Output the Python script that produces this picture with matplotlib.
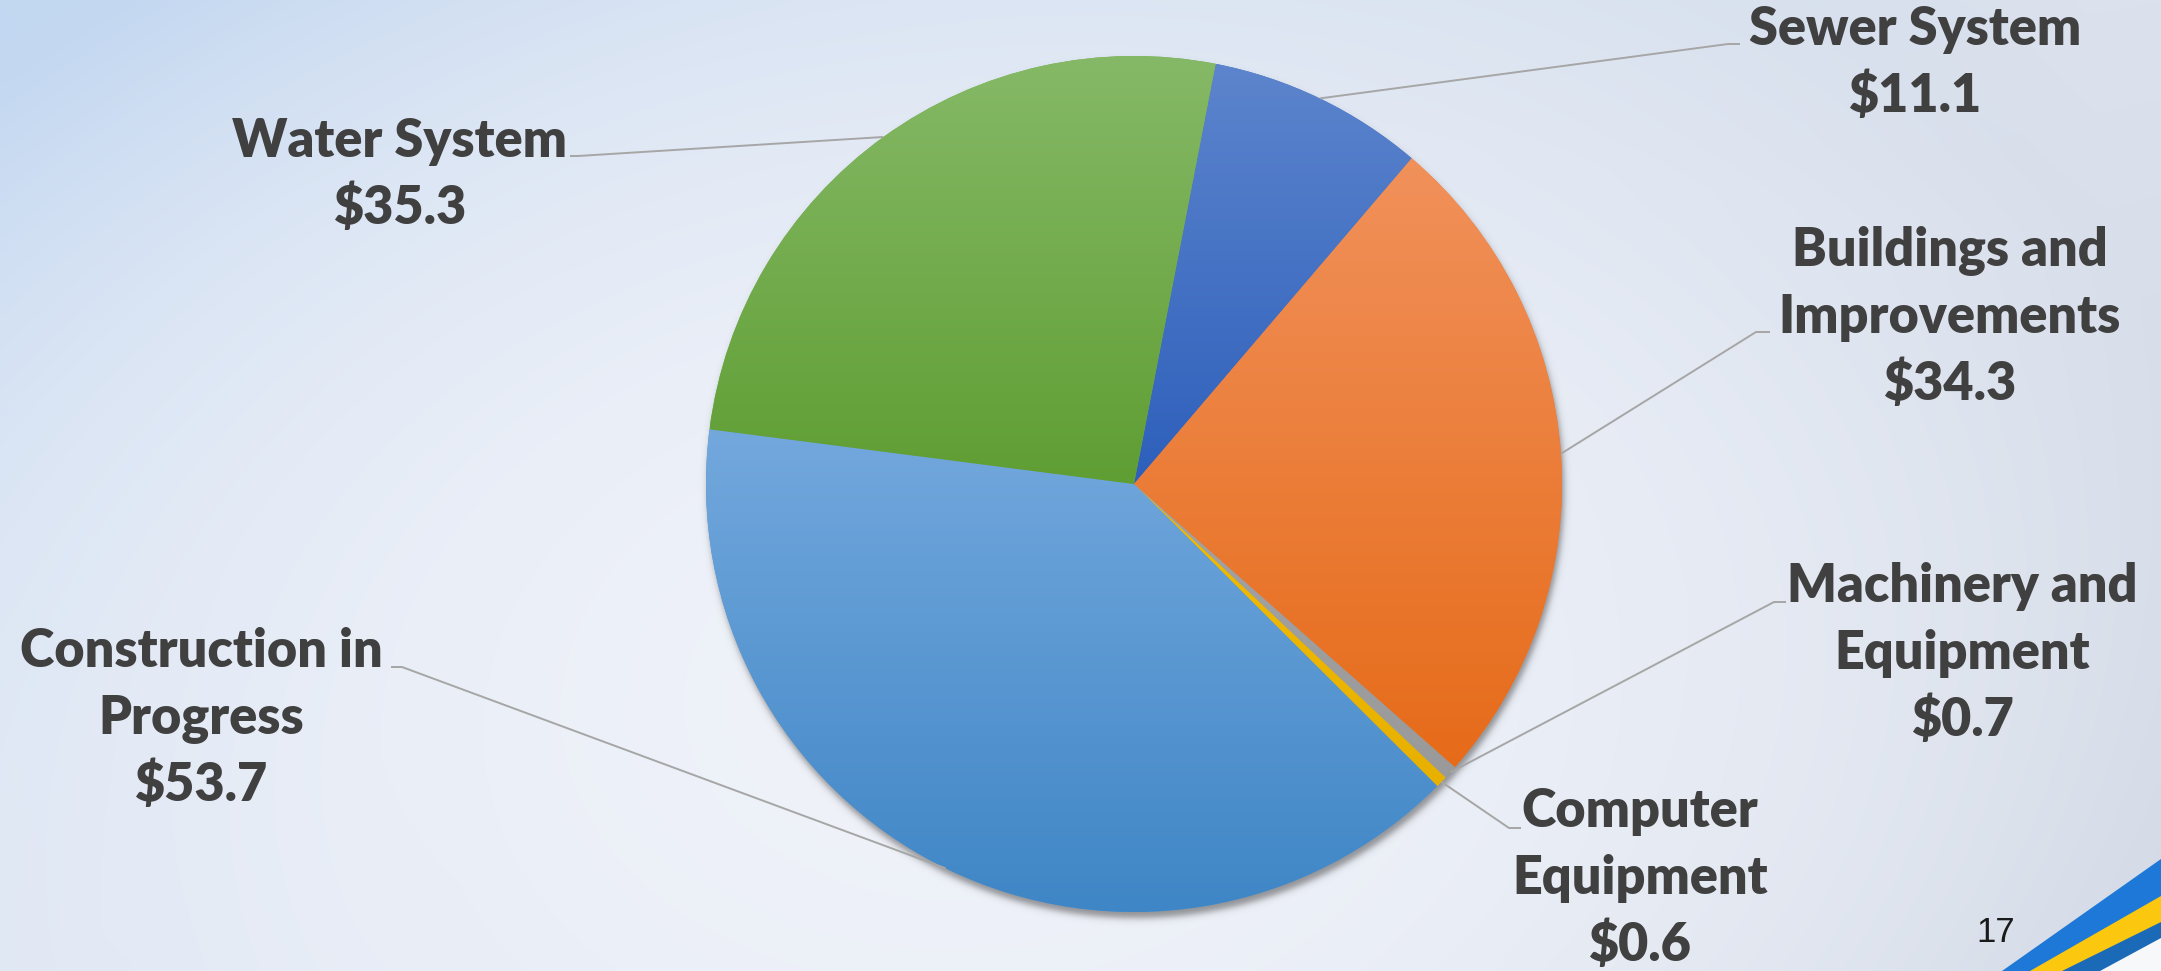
import numpy as np
import matplotlib
matplotlib.use("Agg")
import matplotlib.pyplot as plt
from matplotlib.colors import to_rgb
from matplotlib.patches import Polygon

# ---- data -----------------------------------------------------------------
categories = ["Sewer System", "Buildings and Improvements", "Machinery and Equipment",
              "Computer Equipment", "Construction in Progress", "Water System"]
values = [11.1, 34.3, 0.7, 0.6, 53.7, 35.3]
label_lines = [["Sewer System"], ["Buildings and", "Improvements"],
               ["Machinery and", "Equipment"], ["Computer", "Equipment"],
               ["Construction in", "Progress"], ["Water System"]]

# ---- styling / layout -------------------------------------------------------
W, H, DPI = 2161, 971, 100
slice_top = ["#5d85cd", "#f1915b", "#a3a3a3", "#f2bb00", "#73a8dd", "#86b967"]
slice_bot = ["#2d5fbb", "#e66b19", "#9a9a9a", "#e8b100", "#3f86c6", "#5f9e33"]
text_color = "#404040"
leader_color = "#a6a6a6"
font = dict(family="Lato", weight="heavy", size=37.5, color=text_color)

pie_cx, pie_cy, pie_r = 1134, 484, 428          # pixel units, y measured downwards
start_angle = 79                                 # degrees ccw from +x, slices run clockwise

# label anchor: (centre x, first baseline y), elbow point, end of leader
label_pos = [(1915, 45), (1950, 266), (1962, 602), (1640, 827), (201, 667), (400, 157)]
elbows = [((1728, 44), (1740, 44)), ((1756, 332), (1770, 332)), ((1774, 602), (1786, 602)),
          ((1509, 828), (1521, 828)), ((402, 667), (391, 667)), ((578, 156), (570, 156))]
line_step = 67


def Y(y):
    return H - y


fig = plt.figure(figsize=(W / DPI, H / DPI), dpi=DPI)
ax = fig.add_axes([0, 0, 1, 1])

# ---- slide background -------------------------------------------------------
sh, sw = H // 4, W // 4
gy, gx = np.mgrid[0:sh, 0:sw]
u = gx / (sw - 1)
v = gy / (sh - 1)
tl, tr = np.array(to_rgb("#c2d7f1")), np.array(to_rgb("#dce2ed"))
bl, br = np.array(to_rgb("#d9e3f2")), np.array(to_rgb("#d0d7e3"))
bg = ((1 - u) * (1 - v))[..., None] * tl + (u * (1 - v))[..., None] * tr \
    + ((1 - u) * v)[..., None] * bl + (u * v)[..., None] * br
light = np.array(to_rgb("#eff2f9"))
wgt = np.clip(1 - ((u - 0.45) / 0.6) ** 2 - ((v - 0.72) / 0.95) ** 2, 0, 1)[..., None]
bg = bg * (1 - wgt) + light * wgt
ax.imshow(bg, extent=[0, W, 0, H], origin="upper", interpolation="bilinear",
          aspect="auto", zorder=0)

# corner ribbons
ribbons = [("#1e78d7", [(2002, 971), (2161, 859)]),
           ("#fcc80f", [(2030, 971), (2161, 896)]),
           ("#1a6ab8", [(2062, 971), (2161, 922)]),
           ("#f7f8fa", [(2100, 971), (2161, 938)])]
for col, ((x0, y0), (x1, y1)) in ribbons:
    ax.add_patch(Polygon([(x0, Y(y0)), (x1, Y(y1)), (x1, Y(971)), (x0, Y(971))],
                         closed=True, facecolor=col, edgecolor="none", zorder=1))
ax.text(2015, Y(942), "17", family="Liberation Sans", size=25, color="#1a1a1a",
        ha="right", va="baseline", zorder=5)

# ---- pie shadow -------------------------------------------------------------
pad = 40
x0s, x1s = pie_cx - pie_r - pad, pie_cx + pie_r + pad
y0s, y1s = pie_cy - pie_r - pad, pie_cy + pie_r + pad
yy, xx = np.mgrid[y0s:y1s, x0s:x1s] + 0.5
d = np.hypot(xx - (pie_cx + 2), yy - (pie_cy + 6))
alpha = 0.5 * 0.5 * (1 - np.tanh((d - pie_r) / 4.0))
shadow = np.zeros(d.shape + (4,))
shadow[..., :3] = 0.2
shadow[..., 3] = alpha
ax.imshow(shadow, extent=[x0s, x1s, Y(y1s), Y(y0s)], origin="upper",
          interpolation="bilinear", aspect="auto", zorder=2)

# ---- pie ----------------------------------------------------------------------
mid_colors = [tuple((np.array(to_rgb(a)) + np.array(to_rgb(b))) / 2)
              for a, b in zip(slice_top, slice_bot)]
wedges, _ = ax.pie(values, startangle=start_angle, counterclock=False,
                   center=(pie_cx, Y(pie_cy)), radius=pie_r, colors=mid_colors,
                   wedgeprops=dict(linewidth=0), frame=True)
for w in wedges:
    w.set_zorder(3)

t = np.linspace(0, 1, 256)[:, None, None]
for w, ct, cb in zip(wedges, slice_top, slice_bot):
    ext = w.get_path().get_extents()
    grad = (1 - t) * np.array(to_rgb(ct)) + t * np.array(to_rgb(cb))
    im = ax.imshow(grad, extent=[ext.x0, ext.x1, ext.y0, ext.y1], origin="upper",
                   interpolation="bilinear", aspect="auto", zorder=3.5)
    im.set_clip_path(w)

# ---- leaders and labels ------------------------------------------------------
for w, val, lines, (lx, ly), (elb, end) in zip(wedges, values, label_lines,
                                                label_pos, elbows):
    th = np.deg2rad((w.theta1 + w.theta2) / 2)
    sx = pie_cx + pie_r * np.cos(th)
    sy = Y(pie_cy) + pie_r * np.sin(th)
    ax.plot([sx, elb[0], end[0]], [sy, Y(elb[1]), Y(end[1])], color=leader_color,
            lw=1.4, solid_capstyle="butt", zorder=4)
    for i, txt in enumerate(lines + [f"${val:.1f}"]):
        ax.text(lx, Y(ly + i * line_step), txt, ha="center", va="baseline",
                zorder=5, **font)

ax.set_xlim(0, W)
ax.set_ylim(0, H)
ax.set_aspect("auto")
ax.axis("off")
fig.savefig("out.png", dpi=DPI)
